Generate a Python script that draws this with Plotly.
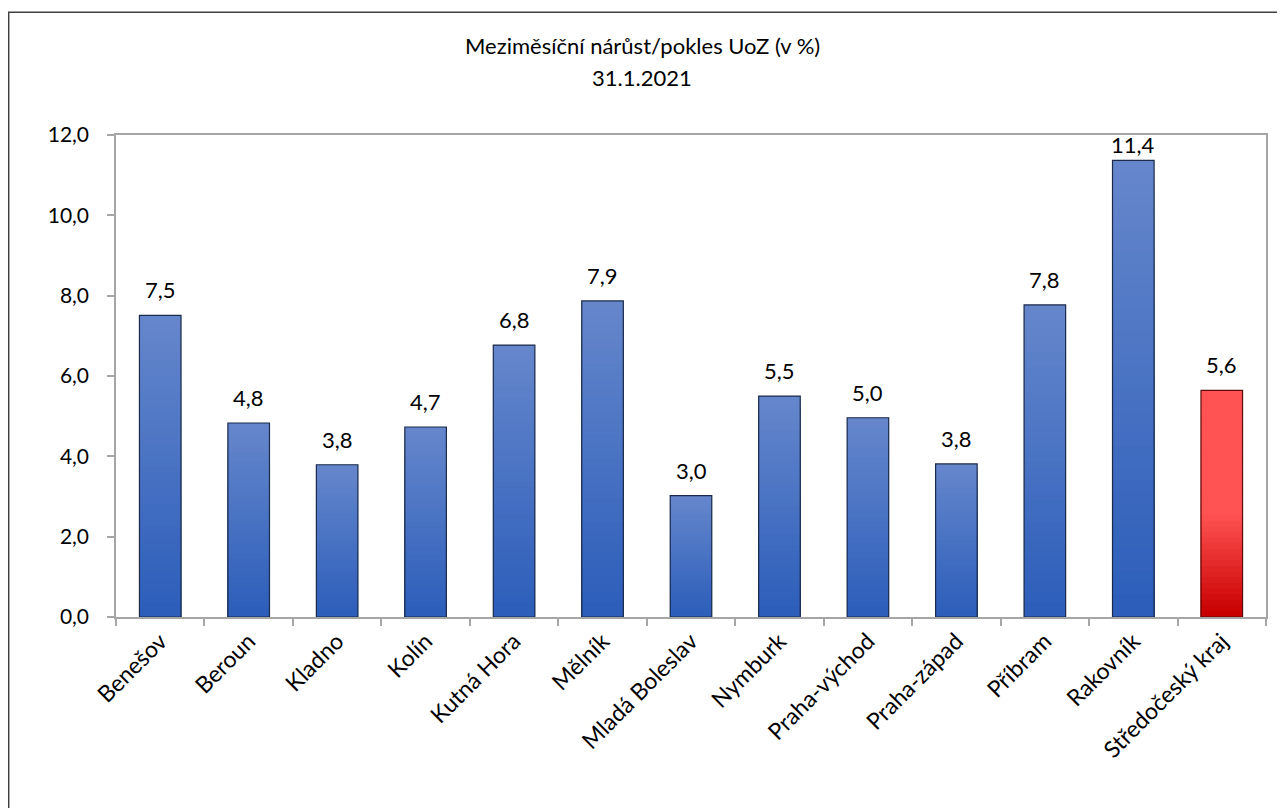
import plotly.graph_objects as go

categories = ["Benešov", "Beroun", "Kladno", "Kolín", "Kutná Hora", "Mělník",
              "Mladá Boleslav", "Nymburk", "Praha-východ", "Praha-západ",
              "Příbram", "Rakovník", "Středočeský kraj"]
values = [7.51, 4.83, 3.79, 4.73, 6.77, 7.87, 3.02, 5.50, 4.96, 3.81, 7.77, 11.37, 5.64]
highlight = [False] * 12 + [True]
y_ticks = [0, 2, 4, 6, 8, 10, 12]

title_line1 = "Meziměsíční nárůst/pokles UoZ (v %)"
title_line2 = "31.1.2021"

FONT = "Lato, 'Open Sans', sans-serif"

W, H = 1277, 800
ML, MR, MT, MB = 108, 19, 127, 191
PW, PH = W - ML - MR, H - MT - MB
Y_MAX = 12


def px_x(fx):
    return (fx - ML) / PW


def px_y(fy):
    return (H - MB - fy) / PH


def hex2rgb(h):
    h = h.lstrip("#")
    return tuple(int(h[i:i + 2], 16) for i in (0, 2, 4))


def mix(c1, c2, t):
    a, b = hex2rgb(c1), hex2rgb(c2)
    return "rgb(%d,%d,%d)" % tuple(round(a[i] + (b[i] - a[i]) * t) for i in range(3))


blue_top, blue_bot = "#6586CB", "#2C5EBA"
red_top, red_bot = "#FF5252", "#C80000"


def color_at(is_red, frac_from_top):
    if is_red:
        if frac_from_top < 0.55:
            return mix(red_top, red_top, 0)
        t = (frac_from_top - 0.55) / 0.45
        return mix(red_top, red_bot, t)
    return mix(blue_top, blue_bot, frac_from_top)


fig = go.Figure()
N = 40
for k in range(N):
    scale = 1 - k / N
    frac = k / (N - 1)
    fig.add_trace(go.Bar(
        x=categories,
        y=[v * scale for v in values],
        marker=dict(color=[color_at(h, frac) for h in highlight], line=dict(width=0)),
        width=0.47,
        hoverinfo="skip",
        showlegend=False,
    ))

outline_colors = ["#5a0b0b" if h else "#1b2a4a" for h in highlight]
fig.add_trace(go.Bar(
    x=categories,
    y=values,
    marker=dict(color="rgba(0,0,0,0)", line=dict(color=outline_colors, width=1.2)),
    width=0.47,
    showlegend=False,
))

annotations = []
LABEL_H = 30
for c, v in zip(categories, values):
    # keep labels inside the plot area, as the original does for the tallest bar
    room = (Y_MAX - v) / Y_MAX * PH
    shift = 10 if room >= 10 + LABEL_H else max(room - LABEL_H, 0)
    annotations.append(dict(
        x=c, y=v, xref="x", yref="y",
        text=("%.1f" % v).replace(".", ","),
        showarrow=False, yanchor="bottom", yshift=shift,
        font=dict(family=FONT, size=22, color="#000000"),
    ))
annotations.append(dict(
    x=px_x(634), y=px_y(37), xref="paper", yref="paper",
    text=title_line1, showarrow=False, xanchor="center", yanchor="middle",
    font=dict(family=FONT, size=22, color="#000000"),
))
annotations.append(dict(
    x=px_x(634), y=px_y(70), xref="paper", yref="paper",
    text=title_line2, showarrow=False, xanchor="center", yanchor="middle",
    font=dict(family=FONT, size=22, color="#000000"),
))

fig.update_layout(
    width=W, height=H,
    barmode="overlay",
    separators=", ",
    paper_bgcolor="white",
    plot_bgcolor="white",
    margin=dict(l=ML, r=MR, t=MT, b=MB),
    font=dict(family=FONT, size=20, color="#000000"),
    xaxis=dict(
        type="category",
        showline=True, linecolor="#A6A6A6", linewidth=1.5, mirror=True,
        ticks="outside", tickson="boundaries", ticklen=7, tickcolor="#A6A6A6", tickwidth=1.5,
        tickangle=-45,
        tickfont=dict(family=FONT, size=23, color="#000000"),
        showgrid=False,
    ),
    yaxis=dict(
        range=[0, Y_MAX],
        tickvals=y_ticks,
        tickformat=".1f",
        showline=True, linecolor="#A6A6A6", linewidth=1.5, mirror=True,
        ticks="outside", ticklen=7, tickcolor="#A6A6A6", tickwidth=1.5,
        ticklabelstandoff=14,
        tickfont=dict(family=FONT, size=21, color="#000000"),
        showgrid=False, zeroline=False,
    ),
    annotations=annotations,
    shapes=[dict(
        type="rect", xref="paper", yref="paper",
        x0=px_x(0.7), x1=px_x(W + 20),
        y0=px_y(H + 20), y1=px_y(4.3),
        line=dict(color="#404040", width=1.5), fillcolor="rgba(0,0,0,0)",
        layer="below",
    )],
)

fig.write_html("out.html")
